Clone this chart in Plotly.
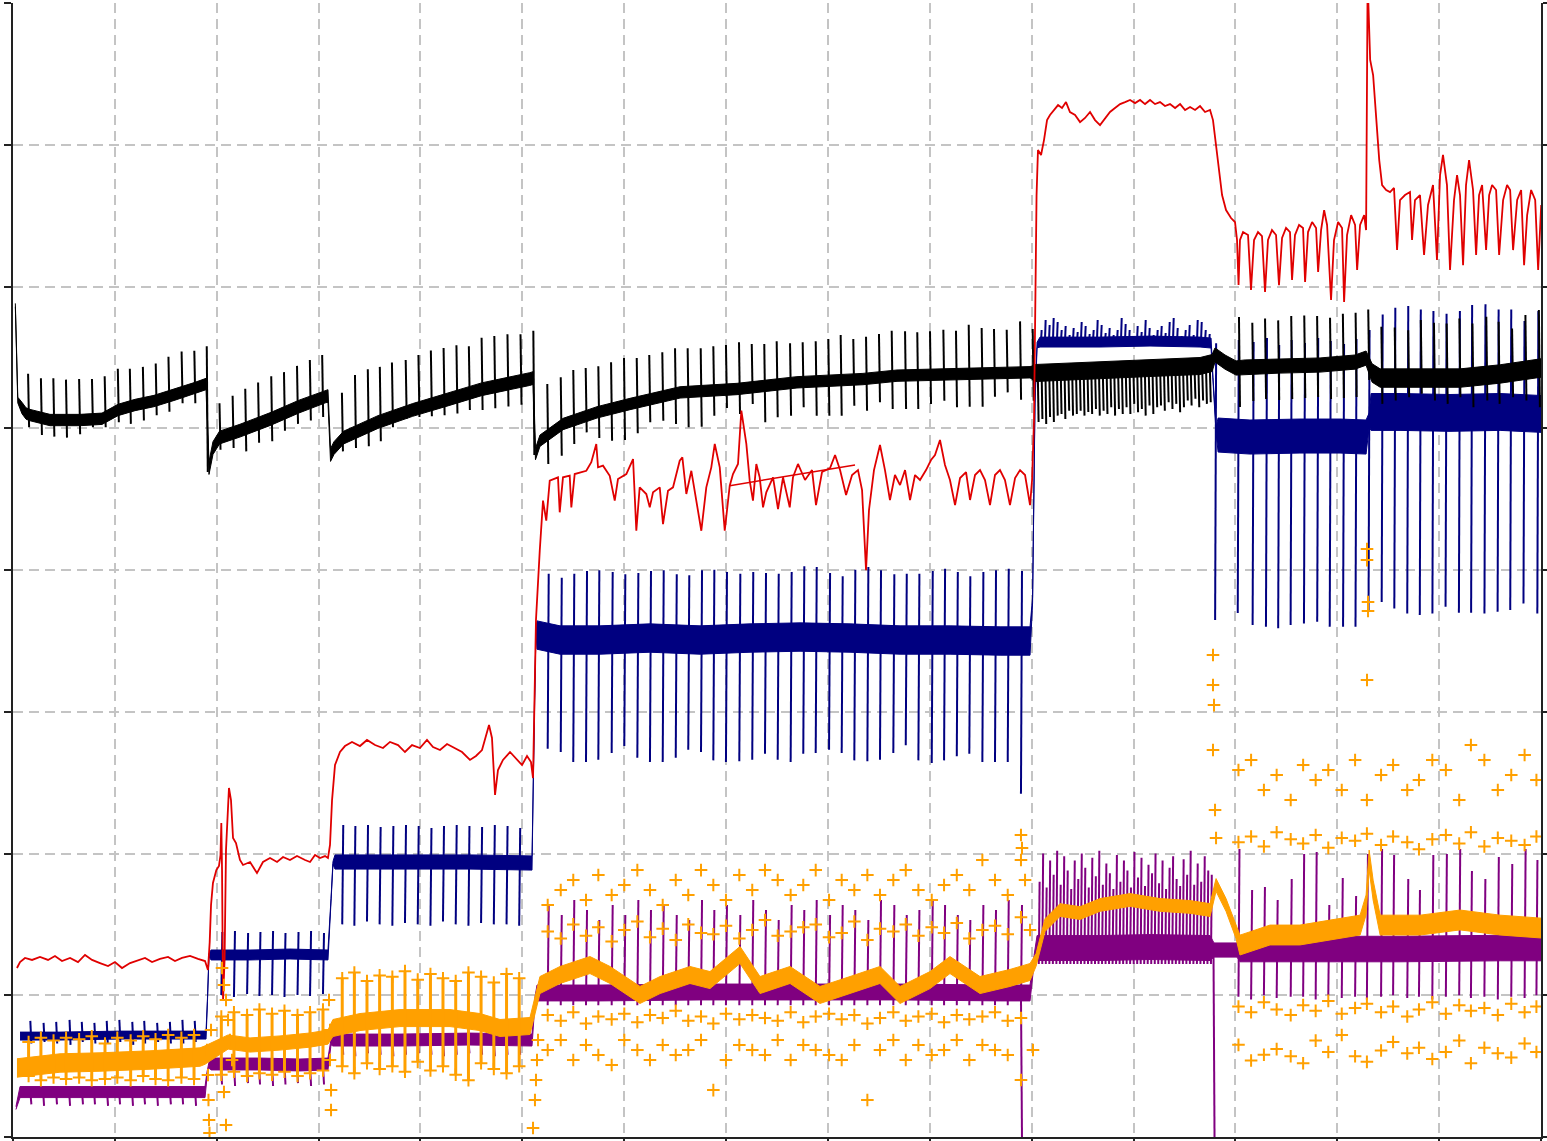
import numpy as np
import plotly.graph_objects as go

# ------------------------------------------------------------------ data
# x: time (0..1500), y: level (0..8)

# ---- black (band centre line, half-width, spikes)
blk_x = [2.3, 4.7, 8.8, 12.8, 16.7, 36.3, 65.8, 87.4, 103.1, 119.8, 138.4, 159.0, 178.7, 189.5,
         192.4, 196.3, 202.7, 222.8, 253.3, 280.8, 307.3, 309.2,
         311.7, 315.1, 324.5, 358.3, 392.3, 426.1, 460.0, 507.3, 510.5,
         512.9, 517.3, 540.0, 573.3, 605.7, 654.8, 710.8, 769.6, 834.4, 867.8, 932.6, 998.4,
         1004.3, 1027.8, 1067.1, 1116.2, 1165.3, 1177.1,
         1180.0, 1189.8, 1200.6,
         1209.5, 1243.9, 1283.1, 1317.5, 1328.3,
         1334.2, 1342.1, 1381.4, 1420.6, 1459.9, 1500.0]
blk_mid = [5.869, 5.199, 5.143, 5.104, 5.093, 5.058, 5.058, 5.067, 5.129, 5.164, 5.192, 5.238, 5.284, 5.312,
           4.719, 4.860, 4.934, 4.983, 5.067, 5.153, 5.226, 5.227,
           4.811, 4.860, 4.934, 5.044, 5.129, 5.201, 5.275, 5.347, 5.354,
           4.818, 4.912, 5.030, 5.112, 5.171, 5.253, 5.277, 5.324, 5.347, 5.371, 5.383, 5.395,
           5.390, 5.397, 5.411, 5.425, 5.439, 5.460,
           5.517, 5.467, 5.425,
           5.432, 5.439, 5.446, 5.467, 5.495,
           5.390, 5.354, 5.354, 5.354, 5.383, 5.425]
blk_half = ([0.012, 0.02] + [0.04] * 12 + [0.045] * 8 + [0.045] * 9 + [0.04] * 12
            + [0.06] * 6 + [0.05] * 3 + [0.05] * 5 + [0.065] * 6)

blk_spk_x = [14.8, 27.4, 39.6, 52.0, 64.9, 77.5, 90.0, 102.9, 114.7, 127.5, 140.1, 152.6, 165.5, 178.0, 190.2,
             202.7, 215.6, 228.0, 240.6, 253.5, 266.0, 278.8, 291.4, 303.5,
             322.9, 335.7, 348.3, 360.1, 372.0, 385.5, 398.0, 410.2, 422.7, 435.3, 447.5, 460.0, 472.5, 485.4, 498.2, 510.8,
             524.5, 537.7, 550.0, 562.2, 574.6, 587.1, 599.8, 612.3, 624.6, 637.4, 649.9, 662.3, 675.1, 687.5, 699.9,
             712.7, 725.2, 737.5, 749.7, 762.8, 775.2, 788.0, 800.4, 812.5, 824.9, 837.4, 850.1, 862.6, 875.7, 887.7,
             900.2, 913.3, 925.7, 938.2, 950.9, 963.0, 975.5, 988.6, 1001.0,
             1203.5, 1216.6, 1229.1, 1242.0, 1254.8, 1267.6, 1280.2, 1292.9, 1305.5, 1318.0, 1330.4,
             1343.3, 1356.4, 1369.6, 1382.0, 1394.9, 1407.4, 1419.9, 1432.7, 1446.3, 1458.4, 1471.6, 1484.7, 1497.9]
blk_spk_hi = [5.384, 5.352, 5.352, 5.343, 5.347, 5.347, 5.367, 5.420, 5.420, 5.433, 5.457, 5.505, 5.542, 5.547, 5.579,
              5.177, 5.230, 5.279, 5.323, 5.367, 5.396, 5.440, 5.481, 5.517,
              5.250, 5.376, 5.416, 5.433, 5.464, 5.481, 5.517, 5.549, 5.566, 5.586, 5.579, 5.639, 5.651, 5.663, 5.663, 5.688,
              5.312, 5.359, 5.411, 5.425, 5.437, 5.465, 5.495, 5.495, 5.517, 5.536, 5.564, 5.564, 5.564, 5.578, 5.587,
              5.606, 5.594, 5.594, 5.613, 5.599, 5.606, 5.613, 5.629, 5.658, 5.629, 5.646, 5.665, 5.688, 5.684, 5.677,
              5.684, 5.695, 5.688, 5.730, 5.707, 5.700, 5.695, 5.754, 5.700,
              5.785, 5.744, 5.775, 5.761, 5.792, 5.796, 5.792, 5.780, 5.808, 5.815, 5.838,
              5.716, 5.711, 5.692, 5.763, 5.744, 5.739, 5.775, 5.739, 5.787, 5.751, 5.704, 5.799, 5.834]
blk_spk_lo = [5.007, 4.953, 4.941, 4.934, 4.958, 5.007, 5.007, 5.043, 5.031, 5.055, 5.092, 5.116, 5.177, 5.177, 4.691,
              4.849, 4.861, 4.837, 4.897, 4.909, 4.983, 5.031, 5.055, 5.079,
              4.837, 4.861, 4.873, 4.909, 5.007, 5.067, 5.079, 5.084, 5.092, 5.104, 5.129, 5.129, 5.141, 5.153, 5.165, 4.811,
              4.748, 4.806, 4.889, 4.971, 4.931, 4.912, 4.917, 4.964, 5.042, 5.053, 5.030, 5.007, 5.011, 5.088, 5.143,
              5.100, 5.171, 5.042, 5.077, 5.088, 5.148, 5.088, 5.088, 5.088, 5.159, 5.124, 5.183, 5.136, 5.136, 5.136,
              5.171, 5.194, 5.148, 5.152, 5.152, 5.222, 5.253, 5.201, 5.194,
              5.150, 5.192, 5.206, 5.199, 5.206, 5.213, 5.220, 5.206, 5.213, 5.220, 5.340,
              5.172, 5.196, 5.219, 5.243, 5.196, 5.172, 5.219, 5.148, 5.196, 5.172, 5.219, 5.196, 5.148]
# black oscillation phase (1006..1175)
blk_osc_start, blk_osc_end = 1006.0, 1175.0
blk_osc_top = 5.40
blk_osc_lo = [5.044, 5.065, 5.030, 5.079, 5.044,
              5.089, 5.100, 5.065, 5.124, 5.089, 5.100, 5.124, 5.089, 5.114,
              5.100, 5.136, 5.089, 5.124, 5.100, 5.148, 5.089, 5.136, 5.100,
              5.148, 5.100, 5.172, 5.113, 5.136, 5.089, 5.160, 5.100, 5.148,
              5.160, 5.124, 5.184, 5.136, 5.172, 5.113, 5.148, 5.196,
              5.160, 5.208, 5.148, 5.196, 5.172, 5.184]

# ---- navy
navy_x = [6.9, 46.1, 105.0, 163.9, 189.5, 190.9, 192.4,
          194.4, 232.7, 271.9, 309.2, 312.2, 314.1,
          316.1, 379.9, 448.6, 509.5, 511.9, 513.4,
          514.4, 537.0, 576.3, 625.3, 674.5, 723.5, 772.6, 821.7, 870.8, 919.9, 969.0, 998.4,
          1000.9, 1003.3, 1005.3,
          1008.2, 1067.1, 1116.2, 1165.3, 1176.1, 1178.0, 1181.0,
          1183.0, 1214.3, 1263.4, 1302.7, 1328.3, 1331.3,
          1333.2, 1361.6, 1410.7, 1459.9, 1500.0]
navy_mid = [0.712, 0.712, 0.719, 0.719, 0.719, 0.966, 1.284,
            1.284, 1.284, 1.291, 1.284, 1.672, 1.933,
            1.940, 1.940, 1.940, 1.933, 3.083, 3.577,
            3.541, 3.506, 3.506, 3.520, 3.506, 3.520, 3.527, 3.520, 3.506, 3.506, 3.499, 3.499,
            3.788, 5.199, 5.587,
            5.608, 5.608, 5.615, 5.608, 5.601, 5.340, 4.988,
            4.952, 4.938, 4.945, 4.945, 4.938, 5.058,
            5.115, 5.115, 5.108, 5.115, 5.101]
navy_half = ([0.028] * 5 + [0.01] * 2 + [0.035] * 4 + [0.01] * 2 + [0.05] * 4 + [0.02] * 2
             + [0.10] * 12 + [0.02] * 3 + [0.035] * 5 + [0.02] * 2 + [0.12] * 5 + [0.05] + [0.13] * 5)

navy_a_x = [17.0, 30.0, 42.4, 55.5, 67.5, 79.9, 92.0, 104.4, 117.1, 128.8, 141.5, 154.0, 166.3, 178.4]
navy_a_top = [0.819, 0.805, 0.812, 0.826, 0.812, 0.805, 0.819, 0.826, 0.812, 0.819, 0.805, 0.812, 0.826, 0.819]
navy_a_bot = [0.66, 0.67, 0.66, 0.65, 0.67, 0.66, 0.66, 0.67, 0.65, 0.66, 0.67, 0.66, 0.66, 0.67]
navy_b_x = [204.5, 216.9, 229.8, 241.9, 254.3, 266.5, 279.3, 291.6, 304.3]
navy_b_top = [1.446, 1.453, 1.439, 1.446, 1.453, 1.439, 1.446, 1.453, 1.439]
navy_b_bot = [1.002, 0.988, 1.009, 0.995, 1.002, 0.988, 1.002, 0.995, 1.009]
navy_c_x = [323.2, 335.1, 347.5, 359.9, 372.4, 384.8, 397.3, 409.8, 422.1, 434.6, 447.1, 459.5, 472.0, 484.5, 496.9]
navy_c_top = [2.201, 2.194, 2.201, 2.187, 2.194, 2.201, 2.194, 2.180, 2.194, 2.201, 2.194, 2.187, 2.201, 2.194, 2.180]
navy_c_bot = [1.50, 1.49, 1.52, 1.50, 1.49, 1.51, 1.50, 1.49, 1.52, 1.50, 1.49, 1.51, 1.50, 1.50, 1.49]
navy_d_x = [524.9, 537.7, 550.0, 562.5, 574.6, 587.7, 600.1, 612.9, 625.3, 637.8, 650.6, 662.9, 675.4, 687.5,
            699.9, 713.0, 725.7, 738.2, 750.7, 763.4, 775.8, 788.0, 801.1, 813.5, 825.9, 838.7, 851.1, 864.2,
            876.4, 888.8, 901.9, 914.0, 926.5, 938.8, 951.6, 964.0, 976.5, 989.5]
navy_d_top = [3.974, 3.946, 3.974, 3.993, 3.998, 3.986, 3.970, 3.979, 3.993, 3.998, 3.970, 3.963, 3.998, 4.002,
              3.986, 3.974, 3.986, 3.979, 3.974, 3.986, 4.026, 4.021, 3.979, 3.956, 4.002, 4.021, 3.998, 3.970,
              3.974, 3.974, 3.993, 4.009, 3.986, 3.956, 3.986, 3.998, 4.009, 3.993]
navy_d_bot = [2.739, 2.716, 2.645, 2.645, 2.661, 2.709, 2.758, 2.676, 2.645, 2.645, 2.676, 2.732, 2.716, 2.657,
              2.645, 2.650, 2.661, 2.704, 2.661, 2.645, 2.704, 2.709, 2.732, 2.709, 2.657, 2.650, 2.661, 2.709,
              2.763, 2.657, 2.638, 2.657, 2.686, 2.704, 2.645, 2.645, 2.645, 2.422]
navy_e_start, navy_e_end = 1009.0, 1174.0
navy_e_bot = 5.59
navy_e_top = [5.693, 5.763, 5.728, 5.778, 5.749, 5.693, 5.721, 5.658, 5.707, 5.679, 5.749, 5.721, 5.665,
              5.693, 5.763, 5.728, 5.672, 5.707, 5.658, 5.693, 5.778, 5.735, 5.693, 5.651, 5.721, 5.679,
              5.763, 5.707, 5.658, 5.693, 5.721, 5.672, 5.749, 5.778, 5.707, 5.651, 5.693, 5.728, 5.658,
              5.763, 5.749, 5.693, 5.665]
navy_f_x = [1180.1, 1202.3, 1216.9, 1230.0, 1242.0, 1254.2, 1267.3, 1280.3, 1292.6, 1305.7, 1317.9, 1330.7]
navy_f_top = [5.60, 5.622, 5.608, 5.636, 5.587, 5.622, 5.601, 5.636, 5.615, 5.594, 5.629, 5.693]
navy_f_bot = [3.647, 3.697, 3.612, 3.600, 3.589, 3.612, 3.623, 3.635, 3.600, 3.600, 3.600, 3.718]
navy_g_x = [1343.6, 1356.0, 1368.7, 1381.0, 1393.4, 1406.3, 1419.4, 1431.4, 1444.5, 1457.4, 1469.8, 1482.8, 1496.4]
navy_g_top = [5.803, 5.850, 5.862, 5.838, 5.827, 5.808, 5.827, 5.869, 5.874, 5.838, 5.838, 5.756, 5.827]
navy_g_bot = [3.775, 3.729, 3.694, 3.682, 3.694, 3.741, 3.699, 3.699, 3.694, 3.706, 3.718, 3.764, 3.694]

# ---- red (single trace, by phase)
red_a = [(3.9, 1.192), (6.9, 1.234), (11.8, 1.263), (18.7, 1.249), (26.5, 1.270), (34.4, 1.249), (41.2, 1.277),
         (48.1, 1.241), (56.0, 1.263), (63.8, 1.234), (70.7, 1.284), (77.6, 1.249), (85.4, 1.227), (93.3, 1.206),
         (100.1, 1.234), (107.0, 1.192), (114.9, 1.227), (122.7, 1.249), (129.6, 1.263), (136.5, 1.234),
         (144.3, 1.256), (152.2, 1.270), (159.0, 1.241), (165.9, 1.263), (173.8, 1.277), (181.6, 1.256),
         (188.5, 1.241), (191.4, 1.178)]
red_b = [(193.1, 1.376), (194.4, 1.637), (196.3, 1.792), (199.6, 1.883), (202.2, 1.912), (203.7, 1.989),
         (204.5, 2.215), (205.2, 1.883), (206.2, 0.966), (207.7, 1.249), (209.1, 2.024), (212.0, 2.462),
         (214.0, 2.377), (216.0, 2.109), (218.9, 2.074), (222.8, 1.954), (225.8, 1.919), (232.7, 1.940),
         (239.5, 1.862), (245.4, 1.940), (252.3, 1.968), (259.2, 1.940), (265.1, 1.975), (271.9, 1.954),
         (278.8, 1.982), (286.7, 1.954), (291.6, 1.940), (296.5, 1.989), (301.4, 1.968), (306.3, 1.982),
         (309.2, 1.968)]
red_c = [(311.2, 2.060), (313.2, 2.377), (316.1, 2.624), (321.0, 2.716), (325.9, 2.758), (332.8, 2.787),
         (340.6, 2.758), (347.5, 2.801), (355.4, 2.765), (363.2, 2.744), (370.1, 2.787), (378.0, 2.765),
         (384.8, 2.716), (391.7, 2.765), (399.5, 2.744), (406.4, 2.801), (412.3, 2.751), (419.2, 2.730),
         (426.1, 2.772), (433.9, 2.744), (440.8, 2.716), (448.6, 2.660), (454.5, 2.688), (460.4, 2.730),
         (464.3, 2.836), (467.3, 2.906), (470.2, 2.815), (473.2, 2.413), (476.1, 2.589), (481.0, 2.660),
         (487.9, 2.716), (493.8, 2.673), (499.7, 2.624), (504.6, 2.688), (508.5, 2.645), (510.5, 2.532)]
red_d = [(513.4, 3.647), (517.1, 4.136), (520.3, 4.489), (523.5, 4.348), (526.9, 4.630), (535.0, 4.654),
         (536.7, 4.407), (539.9, 4.654), (546.5, 4.665), (548.1, 4.442), (551.4, 4.677), (562.8, 4.700),
         (567.7, 4.760), (572.6, 4.889), (574.3, 4.724), (579.2, 4.736), (585.8, 4.665), (590.7, 4.489),
         (593.9, 4.642), (602.1, 4.677), (608.7, 4.783), (611.9, 4.277), (615.2, 4.583), (621.7, 4.536),
         (625.1, 4.442), (628.3, 4.548), (634.9, 4.583), (638.1, 4.324), (643.0, 4.559), (647.9, 4.583),
         (654.5, 4.771), (657.1, 4.795), (661.0, 4.536), (665.9, 4.700), (670.8, 4.489), (675.7, 4.277),
         (680.6, 4.583), (685.5, 4.724), (688.9, 4.889), (693.8, 4.724), (698.7, 4.277), (703.6, 4.595),
         (706.8, 4.677), (711.7, 4.748), (715.0, 5.124), (719.9, 4.889), (723.2, 4.630), (726.4, 4.489),
         (729.7, 4.748), (733.0, 4.654), (736.3, 4.442), (739.5, 4.548), (746.1, 4.654), (751.0, 4.430),
         (755.9, 4.654), (762.5, 4.442), (765.7, 4.654), (770.6, 4.748), (777.5, 4.635), (784.4, 4.705),
         (788.3, 4.458), (794.2, 4.691), (802.1, 4.719), (807.0, 4.811), (811.9, 4.705), (817.8, 4.529),
         (823.7, 4.670), (829.5, 4.705), (833.5, 4.564), (837.4, 3.999), (840.3, 4.423), (845.2, 4.705),
         (851.1, 4.882), (856.0, 4.705), (860.9, 4.494), (865.8, 4.670), (870.8, 4.599), (875.7, 4.705),
         (880.6, 4.494), (885.5, 4.670), (890.4, 4.635), (896.3, 4.705), (901.2, 4.776), (905.1, 4.811),
         (910.0, 4.917), (914.9, 4.741), (919.8, 4.635), (924.8, 4.458), (929.7, 4.649), (935.6, 4.691),
         (939.5, 4.494), (944.4, 4.670), (949.3, 4.705), (954.2, 4.635), (959.1, 4.458), (964.0, 4.670),
         (968.9, 4.705), (973.8, 4.635), (978.7, 4.458), (983.7, 4.649), (988.6, 4.705), (993.5, 4.670),
         (998.4, 4.458), (1000.4, 4.635)]
red_e = [(1002.3, 5.058), (1003.8, 5.905), (1004.8, 6.645), (1006.2, 6.963), (1009.2, 6.928), (1012.1, 7.033),
         (1015.1, 7.174), (1018.0, 7.210), (1021.9, 7.245), (1025.9, 7.280), (1029.8, 7.259), (1033.7, 7.301),
         (1037.6, 7.231), (1042.6, 7.210), (1047.5, 7.160), (1052.4, 7.189), (1057.3, 7.231), (1062.2, 7.174),
         (1067.1, 7.139), (1072.0, 7.189), (1076.9, 7.231), (1081.8, 7.259), (1086.8, 7.287), (1091.7, 7.301),
         (1096.6, 7.316), (1101.5, 7.294), (1106.4, 7.316), (1111.3, 7.287), (1116.2, 7.316), (1121.1, 7.287),
         (1126.0, 7.301), (1130.9, 7.273), (1135.8, 7.287), (1140.8, 7.259), (1145.7, 7.287), (1150.6, 7.245),
         (1155.5, 7.266), (1160.4, 7.245), (1165.3, 7.273), (1170.2, 7.231), (1175.1, 7.245), (1178.0, 7.174),
         (1181.0, 6.998), (1183.9, 6.786), (1186.9, 6.645), (1190.8, 6.539), (1195.7, 6.483), (1199.6, 6.455),
         (1201.6, 6.328), (1203.1, 6.010)]
red_f = [(1204.5, 6.328), (1207.5, 6.384), (1212.4, 6.363), (1215.3, 5.975), (1218.3, 6.328), (1222.2, 6.384),
         (1226.1, 6.356), (1229.1, 5.961), (1232.0, 6.328), (1235.9, 6.398), (1239.9, 6.363), (1242.8, 6.010),
         (1245.8, 6.342), (1249.7, 6.413), (1253.6, 6.384), (1255.6, 6.046), (1258.5, 6.363), (1262.5, 6.434),
         (1266.4, 6.413), (1268.4, 6.032), (1271.3, 6.384), (1275.3, 6.455), (1279.2, 6.413), (1281.2, 6.102),
         (1284.1, 6.398), (1287.1, 6.539), (1290.0, 6.434), (1293.9, 5.905), (1296.8, 6.328), (1300.8, 6.455),
         (1304.7, 6.413), (1306.7, 5.891), (1309.6, 6.363), (1313.6, 6.504), (1317.5, 6.434), (1319.5, 6.116),
         (1322.4, 6.434), (1326.4, 6.504), (1328.3, 6.398), (1329.8, 8.162), (1332.3, 7.598), (1335.2, 7.492),
         (1338.0, 7.174), (1341.2, 6.892), (1344.0, 6.716), (1348.0, 6.681)]
red_g = [(1351.8, 6.666), (1355.7, 6.695), (1358.7, 6.257), (1361.6, 6.610), (1366.5, 6.645), (1371.4, 6.666),
         (1373.4, 6.328), (1376.3, 6.610), (1381.2, 6.645), (1385.2, 6.222), (1389.1, 6.575), (1394.0, 6.716),
         (1397.9, 6.187), (1400.9, 6.786), (1403.8, 6.928), (1407.7, 6.716), (1410.7, 6.116), (1414.6, 6.610),
         (1417.6, 6.786), (1420.5, 6.645), (1423.5, 6.151), (1426.4, 6.716), (1429.4, 6.892), (1433.3, 6.681),
         (1436.3, 6.222), (1439.2, 6.645), (1442.2, 6.716), (1446.1, 6.257), (1449.1, 6.645), (1452.0, 6.716),
         (1455.9, 6.681), (1458.9, 6.222), (1462.8, 6.610), (1466.7, 6.716), (1469.7, 6.681), (1472.6, 6.257),
         (1476.6, 6.610), (1480.5, 6.681), (1483.4, 6.151), (1486.4, 6.504), (1490.3, 6.681), (1494.3, 6.610),
         (1497.2, 6.116), (1500.2, 6.575)]
red_chord = [(703.6, 4.595), (826.6, 4.741)]

# ---- purple
pur_x = [2.9, 6.9, 46.1, 105.0, 163.9, 188.5, 190.4, 192.4,
         194.4, 242.5, 281.7, 309.2, 312.2,
         314.1, 379.9, 448.6, 509.5, 512.4,
         514.4, 576.3, 674.4, 772.6, 870.8, 969.0, 998.4, 1002.3,
         1005.3, 1067.1, 1116.2, 1175.1, 1179.0, 1184.9, 1201.6,
         1204.5, 1263.4, 1361.6, 1459.9, 1500.0]
pur_mid = [0.204, 0.317, 0.317, 0.317, 0.317, 0.317, 0.437, 0.508,
           0.515, 0.515, 0.508, 0.515, 0.670,
           0.684, 0.684, 0.691, 0.684, 0.966,
           1.016, 1.016, 1.023, 1.023, 1.023, 1.016, 1.016, 1.249,
           1.333, 1.333, 1.340, 1.333, 1.319, 1.319, 1.319,
           1.326, 1.326, 1.326, 1.333, 1.333]
pur_half = ([0.01] + [0.039] * 5 + [0.02] * 2 + [0.042] * 4 + [0.02] + [0.042] * 4 + [0.02]
            + [0.056] * 7 + [0.03] + [0.088] * 4 + [0.05] * 3 + [0.09] * 5)

pur_a_x = [17.0, 29.5, 42.2, 55.0, 67.7, 79.5, 92.3, 104.1, 116.8, 128.6, 141.3, 154.0, 166.0, 178.7]
pur_a_top = 0.33
pur_a_bot = [0.23, 0.22, 0.23, 0.22, 0.23, 0.23, 0.22, 0.23, 0.22, 0.23, 0.22, 0.23, 0.23, 0.22]
pur_b_x = [204.2, 217.0, 229.7, 241.5, 254.3, 266.5, 278.8, 291.6, 304.3]
pur_b_top = 0.51
pur_b_bot = [0.37, 0.36, 0.38, 0.37, 0.36, 0.37, 0.38, 0.36, 0.37]
pur_c_top = 0.69
pur_c_bot = [0.58, 0.57, 0.59, 0.58, 0.57, 0.58, 0.59, 0.58, 0.57, 0.58, 0.59, 0.58, 0.57, 0.58, 0.58]
pur_d_bot = 0.93
pur_d_top = [1.637, 1.566, 1.672, 1.601, 1.531, 1.637, 1.566, 1.672, 1.601, 1.637, 1.566, 1.531, 1.672, 1.601,
             1.637, 1.566, 1.672, 1.601, 1.531, 1.637, 1.601, 1.672, 1.566, 1.637, 1.601, 1.531, 1.672, 1.637,
             1.566, 1.601, 1.672, 1.637, 1.566, 1.531, 1.637, 1.601, 1.672, 1.637]
pur_e_start, pur_e_end = 1007.0, 1176.0
pur_e_bot = 1.22
pur_e_top = [1.80, 2.00, 1.76, 1.95, 1.85, 2.02, 1.78, 1.98, 1.88, 1.75, 1.95, 1.82, 2.00, 1.90, 1.76, 1.97,
             1.84, 2.02, 1.78, 1.93, 1.86, 1.75, 1.99, 1.80, 1.95, 1.88, 1.76, 2.01, 1.83, 1.97, 1.77, 1.92,
             1.86, 2.00, 1.79, 1.95, 1.75, 1.90, 1.98, 1.82, 1.77, 1.96, 1.85, 2.02, 1.78, 1.93, 1.80, 1.98,
             1.88, 1.85]
pur_drop_x = [989.5, 1178.5]
pur_drop_top = [1.0, 1.3]
pur_drop_bot = [0.0, 0.0]
pur_fg_x = [1203.0, 1215.4, 1228.0, 1240.5, 1254.3, 1266.5, 1278.8, 1291.2, 1304.4, 1317.5, 1329.1, 1343.0,
            1354.8, 1368.7, 1380.2, 1393.3, 1406.6, 1419.7, 1431.2, 1444.4, 1457.6, 1470.8, 1483.9, 1495.5]
pur_fg_top = [2.031, 1.742, 1.764, 1.672, 1.820, 1.996, 2.010, 1.637, 1.827, 1.700, 1.996, 2.031,
              1.989, 1.820, 1.742, 1.989, 1.996, 2.031, 1.876, 1.820, 1.975, 1.926, 2.031, 1.954]
pur_fg_bot = [0.99, 0.97, 1.00, 0.98, 0.99, 0.99, 0.97, 1.00, 0.98, 0.99, 0.97, 0.99,
              1.00, 0.98, 0.99, 0.97, 0.99, 1.00, 0.98, 0.99, 0.97, 0.99, 0.98, 1.00]

# ---- orange
or_band_x = [3.9, 46.1, 85.4, 134.5, 183.6, 188.5,
             211.1, 232.7, 262.1, 291.6, 309.2,
             314.1, 340.6, 379.9, 429.0, 458.4, 478.1, 507.5,
             517.3, 537.0, 566.4, 586.1, 615.5, 635.2, 664.6, 684.2, 713.7, 733.3, 762.8, 792.2, 821.7, 851.1,
             870.8, 900.2, 919.8, 949.3, 978.7, 998.4,
             1004.3, 1013.1, 1027.8, 1047.5, 1067.1, 1096.6, 1126.0, 1155.5, 1175.1, 1181.0, 1190.8, 1200.6,
             1204.5, 1234.0, 1263.4, 1292.9, 1322.4, 1328.3, 1331.3, 1335.2, 1342.1, 1381.4, 1420.6, 1459.9, 1500.0]
or_band_mid = [0.487, 0.522, 0.529, 0.543, 0.564, 0.578,
               0.670, 0.649, 0.663, 0.684, 0.705,
               0.769, 0.811, 0.839, 0.839, 0.811, 0.769, 0.783,
               1.072, 1.143, 1.213, 1.143, 1.002, 1.072, 1.143, 1.107, 1.284, 1.072, 1.143, 1.002, 1.072, 1.143,
               1.002, 1.107, 1.213, 1.072, 1.122, 1.164,
               1.249, 1.495, 1.601, 1.580, 1.637, 1.672, 1.637, 1.623, 1.601, 1.778, 1.637, 1.446,
               1.354, 1.425, 1.425, 1.460, 1.495, 1.637, 1.954, 1.742, 1.495, 1.495, 1.531, 1.495, 1.474]
or_band_half = [0.065] * 6 + [0.05] * 5 + [0.06] * 7 + [0.06] * 20 + [0.045] * 12 + [0.07] * 13

or_stk_x = [15.3, 27.4, 39.8, 52.1, 64.9, 77.3, 90.3, 102.4, 115.5, 127.8, 139.9, 152.3, 165.3, 177.7,
            204.5, 216.9, 229.8, 241.9, 254.3, 266.5, 279.3, 291.6, 304.3,
            323.2, 335.1, 347.5, 359.9, 372.4, 384.8, 397.3, 409.8, 422.1, 434.6, 447.1, 459.5, 472.0, 484.5, 496.9]
or_stk_top = [0.67, 0.70, 0.68, 0.70, 0.69, 0.71, 0.66, 0.70, 0.68, 0.71, 0.69, 0.72, 0.70, 0.72,
              0.85, 0.88, 0.86, 0.90, 0.87, 0.89, 0.86, 0.88, 0.90,
              1.12, 1.16, 1.10, 1.14, 1.13, 1.17, 1.11, 1.15, 1.12, 1.10, 1.16, 1.13, 1.09, 1.15, 1.12]
or_stk_bot = [0.43, 0.40, 0.42, 0.41, 0.42, 0.40, 0.41, 0.42, 0.40, 0.43, 0.41, 0.40, 0.42, 0.41,
              0.44, 0.46, 0.43, 0.45, 0.44, 0.46, 0.43, 0.45, 0.47,
              0.50, 0.45, 0.52, 0.48, 0.50, 0.46, 0.53, 0.47, 0.50, 0.44, 0.40, 0.52, 0.48, 0.45, 0.50]

or_d_top = [1.637, 1.742, 1.813, 1.672, 1.848, 1.707, 1.778, 1.883, 1.742, 1.637, 1.813, 1.707, 1.883, 1.778,
            1.672, 1.848, 1.742, 1.883, 1.813, 1.707, 1.778, 1.883, 1.672, 1.813, 1.742, 1.848, 1.707, 1.813,
            1.883, 1.742, 1.672, 1.778, 1.848, 1.742, 1.954, 1.813, 1.707, 1.954]
or_d_up2 = [1.45, 1.40, 1.50, 1.42, 1.48, 1.38, 1.46, 1.52, 1.41, 1.47, 1.39, 1.50, 1.44, 1.43, 1.49, 1.40,
            1.46, 1.53, 1.42, 1.45, 1.48, 1.50, 1.41, 1.44, 1.52, 1.39, 1.47, 1.45, 1.50, 1.42, 1.48, 1.44,
            1.51, 1.40, 1.46, 1.49, 1.43, 1.55]
or_d_lo2 = [0.86, 0.82, 0.88, 0.80, 0.85, 0.83, 0.87, 0.81, 0.86, 0.84, 0.89, 0.82, 0.85, 0.80, 0.87, 0.83,
            0.86, 0.84, 0.82, 0.88, 0.81, 0.85, 0.87, 0.83, 0.86, 0.80, 0.84, 0.88, 0.82, 0.85, 0.87, 0.81,
            0.86, 0.83, 0.85, 0.88, 0.82, 0.84]
or_d_bot = [0.614, 0.684, 0.543, 0.649, 0.578, 0.508, 0.684, 0.614, 0.543, 0.649, 0.578, 0.614, 0.684, 0.331,
            0.543, 0.649, 0.614, 0.578, 0.684, 0.543, 0.649, 0.614, 0.578, 0.543, 0.649, 0.261, 0.614, 0.684,
            0.543, 0.649, 0.578, 0.614, 0.684, 0.543, 0.649, 0.614, 0.578, 0.402]
or_fg_top = [2.589, 2.660, 2.448, 2.554, 2.377, 2.624, 2.518, 2.589, 2.448, 2.660, 2.377, 2.554,
             2.624, 2.448, 2.518, 2.660, 2.589, 2.377, 2.765, 2.660, 2.448, 2.554, 2.695, 2.518]
or_fg_up2 = [2.08, 2.12, 2.05, 2.15, 2.10, 2.07, 2.13, 2.04, 2.11, 2.09, 2.14, 2.06,
             2.12, 2.08, 2.03, 2.10, 2.13, 2.07, 2.15, 2.05, 2.11, 2.09, 2.06, 2.12]
or_fg_lo2 = [0.92, 0.88, 0.95, 0.90, 0.86, 0.93, 0.89, 0.96, 0.87, 0.91, 0.94, 0.88,
             0.92, 0.85, 0.90, 0.95, 0.87, 0.93, 0.89, 0.91, 0.86, 0.94, 0.88, 0.92]
or_fg_bot = [0.65, 0.54, 0.58, 0.62, 0.57, 0.52, 0.68, 0.60, 0.72, 0.57, 0.53, 0.61,
             0.67, 0.59, 0.63, 0.55, 0.60, 0.68, 0.52, 0.63, 0.59, 0.56, 0.66, 0.60]
or_pts = [(190.4, 0.614), (191.4, 0.437), (191.9, 0.261), (192.4, 0.120), (192.9, 0.028), (194.4, 0.755),
          (205.2, 1.192), (207.1, 1.072), (209.1, 0.966), (211.1, 0.825), (213.0, 0.684), (215.0, 0.543),
          (207.1, 0.317), (209.1, 0.085), (310.2, 0.966), (311.2, 0.755), (311.2, 0.543), (312.2, 0.331),
          (312.2, 0.190), (510.5, 0.064), (512.4, 0.261), (513.4, 0.402), (514.4, 0.543), (515.4, 0.684),
          (989.5, 2.130), (990.5, 2.039), (993.5, 1.813), (998.4, 1.460), (1001.3, 0.614),
          (1178.0, 3.400), (1178.0, 3.189), (1179.0, 3.047), (1178.0, 2.730), (1180.0, 2.307), (1181.0, 2.109),
          (1329.2, 4.148), (1329.2, 4.070), (1330.2, 3.774), (1330.2, 3.711), (1329.2, 3.224)]

# ------------------------------------------------------------------ styles
C_BLACK = "#000000"
C_RED = "#e00000"
C_NAVY = "#000080"
C_PURPLE = "#800080"
C_ORANGE = "#ffa000"


def band(xs, mid, half):
    up = [m + h for m, h in zip(mid, half)]
    lo = [m - h for m, h in zip(mid, half)]
    return list(xs) + list(xs)[::-1], up + lo[::-1]


def spikes(xs, a, b, dx=1.0):
    n = len(xs)
    a = list(a) if isinstance(a, (list, tuple, np.ndarray)) else [a] * n
    b = list(b) if isinstance(b, (list, tuple, np.ndarray)) else [b] * n
    X, Y = [], []
    for x, p, q in zip(xs, a, b):
        X += [float(x), float(x) + dx, None]
        Y += [p, q, None]
    return X, Y


def join(*parts):
    X, Y = [], []
    for px, py in parts:
        X += px
        Y += py
    return X, Y


fig = go.Figure()


def add_band(xs, mid, half, color):
    bx, by = band(xs, mid, half)
    fig.add_trace(go.Scatter(x=bx, y=by, mode="lines", fill="toself", fillcolor=color,
                             line=dict(color=color, width=1), hoverinfo="skip"))


def add_lines(X, Y, color, width):
    fig.add_trace(go.Scatter(x=X, y=Y, mode="lines", line=dict(color=color, width=width),
                             hoverinfo="skip"))


# navy
add_band(navy_x, navy_mid, navy_half, C_NAVY)
nx, ny = join(spikes(navy_a_x, navy_a_top, navy_a_bot),
              spikes(navy_b_x, navy_b_bot, navy_b_top),
              spikes(navy_c_x, navy_c_bot, navy_c_top),
              spikes(navy_d_x, navy_d_bot, navy_d_top),
              spikes(np.linspace(navy_e_start, navy_e_end, len(navy_e_top)), navy_e_bot, navy_e_top, 0.8),
              spikes(navy_f_x, navy_f_bot, navy_f_top),
              spikes(navy_g_x, navy_g_bot, navy_g_top))
add_lines(nx, ny, C_NAVY, 2)

# black
add_band(blk_x, blk_mid, blk_half, C_BLACK)
bx, by = join(spikes(blk_spk_x, blk_spk_hi, blk_spk_lo),
              spikes(np.linspace(blk_osc_start, blk_osc_end, len(blk_osc_lo)), blk_osc_top, blk_osc_lo, 0.8))
add_lines(bx, by, C_BLACK, 2)

# red
red_all = red_a + red_b + red_c + red_d + red_e + red_f + red_g
add_lines([p[0] for p in red_all], [p[1] for p in red_all], C_RED, 1.8)
add_lines([p[0] for p in red_chord], [p[1] for p in red_chord], C_RED, 1.5)

# purple
add_band(pur_x, pur_mid, pur_half, C_PURPLE)
px_, py_ = join(spikes(pur_a_x, pur_a_top, pur_a_bot),
                spikes(pur_b_x, pur_b_top, pur_b_bot),
                spikes(navy_c_x, pur_c_top, pur_c_bot),
                spikes(navy_d_x, pur_d_bot, pur_d_top),
                spikes(np.linspace(pur_e_start, pur_e_end, len(pur_e_top)), pur_e_bot, pur_e_top, 0.8),
                spikes(pur_drop_x, pur_drop_top, pur_drop_bot),
                spikes(pur_fg_x, pur_fg_bot, pur_fg_top))
add_lines(px_, py_, C_PURPLE, 2)

# orange
add_band(or_band_x, or_band_mid, or_band_half, C_ORANGE)
sx, sy = spikes(or_stk_x, or_stk_bot, or_stk_top, 0.0)
add_lines(sx, sy, C_ORANGE, 3)

mk_x = list(or_stk_x) * 2 + list(navy_d_x) * 4 + list(pur_fg_x) * 4 + [p[0] for p in or_pts]
mk_y = (or_stk_top + or_stk_bot + or_d_top + or_d_up2 + or_d_lo2 + or_d_bot
        + or_fg_top + or_fg_up2 + or_fg_lo2 + or_fg_bot + [p[1] for p in or_pts])
fig.add_trace(go.Scatter(x=mk_x, y=mk_y, mode="markers",
                         marker=dict(symbol="cross-thin", size=9, color=C_ORANGE,
                                     line=dict(width=2, color=C_ORANGE)),
                         hoverinfo="skip"))

axis_common = dict(showgrid=True, gridcolor="#c4c4c4", gridwidth=1.5, griddash="10px,6px",
                   showline=True, linecolor="#222222", linewidth=1.5, ticks="outside",
                   ticklen=7, tickwidth=1.5, tickcolor="#222222", showticklabels=False,
                   zeroline=False, automargin=False)
fig.update_layout(width=1547, height=1141, margin=dict(l=13, r=6, t=3, b=4, autoexpand=False),
                  paper_bgcolor="white", plot_bgcolor="white", showlegend=False)
fig.update_xaxes(range=[0, 1500], dtick=100, tick0=0, mirror=False, **axis_common)
fig.update_yaxes(range=[0, 8], dtick=1, tick0=0, mirror="ticks", **axis_common)

fig.write_html("out.html")
